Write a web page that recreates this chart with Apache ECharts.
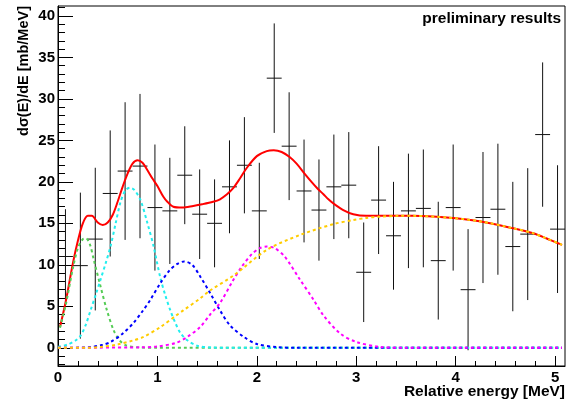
<!DOCTYPE html>
<html>
<head>
<meta charset="utf-8">
<script src="https://cdn.jsdelivr.net/npm/echarts@6.0.0/dist/echarts.min.js"></script>
<style>
html,body{margin:0;padding:0;background:#fff;}
#chart{width:571px;height:402px;}
</style>
</head>
<body>
<div id="chart"></div>
<script>
// ---- data points (bin centres, values, symmetric errors) ----
const dataE = [0.075,0.225,0.375,0.525,0.675,0.825,0.975,1.125,1.275,1.425,1.575,1.725,1.875,2.025,2.175,2.325,2.475,2.625,2.775,2.925,3.075,3.225,3.375,3.525,3.675,3.825,3.975,4.125,4.275,4.425,4.575,4.725,4.875,5.025];
const dataV = [11.0,9.9,13.1,18.6,21.3,21.9,16.9,16.5,20.8,16.1,15.0,19.4,22.0,16.5,32.5,24.3,18.9,16.6,19.4,19.6,9.1,17.8,13.5,16.5,16.8,10.5,16.9,7.0,15.7,16.7,12.2,13.7,25.7,14.3];
const dataErr = [5.7,8.8,8.6,7.6,8.3,8.7,7.6,6.4,5.9,5.4,5.3,5.6,5.8,5.8,6.6,6.5,6.2,6.1,6.3,6.4,6.0,6.5,6.5,6.9,7.1,7.1,7.6,7.3,7.9,7.9,7.8,7.95,8.7,7.7];
const binHalfWidth = 0.075;

// ---- fit curves ----
const redE = [0.02,0.08,0.15,0.2,0.25,0.3,0.34,0.4,0.45,0.5,0.55,0.6,0.65,0.7,0.75,0.8,0.85,0.9,0.95,1.0,1.06,1.1,1.16,1.25,1.36,1.45,1.56,1.63,1.7,1.76,1.83,1.9,2.0,2.1,2.17,2.25,2.33,2.4,2.48,2.55,2.61,2.67,2.72,2.77,2.87,2.97,3.1,3.3,3.57,3.91,4.24,4.58,4.78,4.91,5.07];
const redV = [2.5,5.7,10.2,12.9,15.0,15.9,15.9,15.1,14.8,15.1,16.0,17.6,19.4,21.0,22.2,22.6,22.3,21.4,20.4,19.5,18.2,17.6,17.0,16.9,17.1,17.3,17.6,17.9,18.5,19.2,20.4,21.7,23.1,23.7,23.8,23.6,23.0,22.2,21.0,20.0,19.2,18.5,17.9,17.4,16.6,16.1,15.9,15.9,15.9,15.7,15.25,14.4,13.8,13.2,12.4];

const greenE = [0.02,0.08,0.15,0.2,0.25,0.28,0.32,0.36,0.43,0.49,0.56,0.62,0.68,0.8,1.0,5.07];
const greenV = [2.4,5.3,9.6,12.0,13.1,13.2,12.5,10.6,7.3,4.6,2.1,0.9,0.3,0.05,0,0];

const cyanE = [0,0.1,0.18,0.23,0.28,0.33,0.38,0.43,0.48,0.53,0.58,0.63,0.68,0.725,0.77,0.83,0.9,0.96,1.03,1.08,1.13,1.18,1.23,1.3,1.4,1.55,1.7,5.07];
const cyanV = [0.1,0.4,0.9,1.5,2.8,4.6,6.4,8.3,10.2,12.3,15.0,17.6,19.0,19.3,19.0,17.8,15.0,12.3,8.4,6.3,4.5,3.0,1.8,0.9,0.25,0.03,0,0];

const blueE = [0,0.3,0.45,0.53,0.65,0.76,0.85,0.93,1.03,1.12,1.2,1.27,1.35,1.43,1.53,1.63,1.73,1.87,2.0,2.2,2.4,5.07];
const blueV = [0,0.05,0.35,0.7,1.7,3.0,4.4,5.8,7.8,9.3,10.1,10.4,10.0,8.6,6.6,4.5,2.7,1.3,0.45,0.08,0,0];

const magentaE = [0,0.85,1.0,1.19,1.3,1.43,1.53,1.63,1.755,1.85,1.95,2.03,2.1,2.18,2.28,2.435,2.57,2.67,2.84,3.0,3.24,3.5,5.07];
const magentaV = [0,0.05,0.15,0.6,1.3,2.5,4.0,5.4,8.0,9.8,11.3,12.0,12.2,12.0,11.0,8.2,5.8,3.9,1.7,0.7,0.1,0,0];

const orangeE = [0,0.3,0.43,0.6,0.76,0.86,1.03,1.19,1.26,1.43,1.53,1.765,2.1,2.435,2.77,2.97,3.1,3.235,3.44,3.57,3.91,4.24,4.58,4.78,4.91,5.07];
const orangeV = [0,0,0.1,0.4,0.9,1.3,2.5,3.9,4.5,5.95,6.9,8.7,11.8,13.6,14.9,15.4,15.65,15.8,15.9,15.9,15.7,15.25,14.4,13.8,13.2,12.4];

// ---- axes ----
const xTicks = [0,1,2,3,4,5];
const xMinorTicks = [0.2,0.4,0.6,0.8,1.2,1.4,1.6,1.8,2.2,2.4,2.6,2.8,3.2,3.4,3.6,3.8,4.2,4.4,4.6,4.8,5.2];
const yTicks = [0,5,10,15,20,25,30,35,40];
const yMinorTicks = [-2,-1,1,2,3,4,6,7,8,9,11,12,13,14,16,17,18,19,21,22,23,24,26,27,28,29,31,32,33,34,36,37,38,39,41];

const zip = (a, b) => a.map((v, i) => [v, b[i]]);
const FONT = 'Liberation Sans, Arial, Helvetica, sans-serif';

const chart = echarts.init(document.getElementById('chart'), null, {renderer: 'canvas'});

function dashed(name, E, V, color) {
  return {
    name: name, type: 'line', data: zip(E, V), smooth: 0.3, symbol: 'none',
    clip: true, lineStyle: {color: color, width: 2, type: [3, 3]}, z: 3
  };
}

const option = {
  animation: false,
  backgroundColor: '#fff',
  grid: {left: 58, top: 6, right: 6, bottom: 36, show: true, borderColor: '#000', borderWidth: 1, outerBoundsMode: 'none'},
  xAxis: [
    {type: 'value', min: 0, max: 5.1, position: 'bottom',
     axisLine: {show: true, onZero: false, lineStyle: {color: '#000', width: 1}},
     axisTick: {show: true, inside: true, length: 10, customValues: xTicks, lineStyle: {color: '#000', width: 1}},
     axisLabel: {show: true, customValues: xTicks, fontSize: 15, fontWeight: 'bold', color: '#000', margin: 4, fontFamily: FONT},
     splitLine: {show: false}},
    {type: 'value', min: 0, max: 5.1, position: 'bottom',
     axisLine: {show: false, onZero: false},
     axisTick: {show: true, inside: true, length: 5, customValues: xMinorTicks, lineStyle: {color: '#000', width: 1}},
     axisLabel: {show: false}, splitLine: {show: false}}
  ],
  yAxis: [
    {type: 'value', min: -2.2, max: 41.2, position: 'left',
     axisLine: {show: true, onZero: false, lineStyle: {color: '#000', width: 1}},
     axisTick: {show: true, inside: true, length: 15, customValues: yTicks, lineStyle: {color: '#000', width: 1}},
     axisLabel: {show: true, customValues: yTicks, fontSize: 15, fontWeight: 'bold', color: '#000', margin: 3, fontFamily: FONT},
     splitLine: {show: false}},
    {type: 'value', min: -2.2, max: 41.2, position: 'left',
     axisLine: {show: false, onZero: false},
     axisTick: {show: true, inside: true, length: 7, customValues: yMinorTicks, lineStyle: {color: '#000', width: 1}},
     axisLabel: {show: false}, splitLine: {show: false}}
  ],
  graphic: [
    {type: 'text', x: 24, y: 6, rotation: Math.PI / 2,
     style: {text: 'dσ(E)/dE [mb/MeV]', font: 'bold 14.5px ' + FONT, fill: '#000', textAlign: 'right', textVerticalAlign: 'middle'}},
    {type: 'text', x: 565, y: 392,
     style: {text: 'Relative energy [MeV]', font: 'bold 15.5px ' + FONT, fill: '#000', textAlign: 'right', textVerticalAlign: 'middle'}},
    {type: 'text', x: 561, y: 19,
     style: {text: 'preliminary results', font: 'bold 15.5px ' + FONT, fill: '#000', textAlign: 'right', textVerticalAlign: 'middle'}}
  ],
  series: [
    {
      type: 'custom', name: 'data', z: 2,
      data: dataE.map((e, i) => [e, dataV[i], dataErr[i]]),
      renderItem: function (params, api) {
        const x = api.value(0), y = api.value(1), e = api.value(2);
        const top = api.coord([x, y + e]);
        const bot = api.coord([x, y - e]);
        const l = api.coord([x - binHalfWidth, y]);
        const r = api.coord([x + binHalfWidth, y]);
        return {
          type: 'group',
          children: [
            {type: 'line', shape: {x1: top[0], y1: top[1], x2: bot[0], y2: bot[1]}, style: {stroke: '#111', lineWidth: 1}},
            {type: 'line', shape: {x1: l[0], y1: l[1], x2: r[0], y2: r[1]}, style: {stroke: '#111', lineWidth: 1}}
          ]
        };
      }
    },
    {name: 'total', type: 'line', data: zip(redE, redV), smooth: 0.3, symbol: 'none', clip: true,
     lineStyle: {color: '#ff0000', width: 2}, z: 3},
    dashed('green', greenE, greenV, '#55cc55'),
    dashed('cyan', cyanE, cyanV, '#22eeee'),
    dashed('blue', blueE, blueV, '#0000ff'),
    dashed('magenta', magentaE, magentaV, '#ff00ff'),
    dashed('orange', orangeE, orangeV, '#ffcc00')
  ]
};
chart.setOption(option);
</script>
</body>
</html>
